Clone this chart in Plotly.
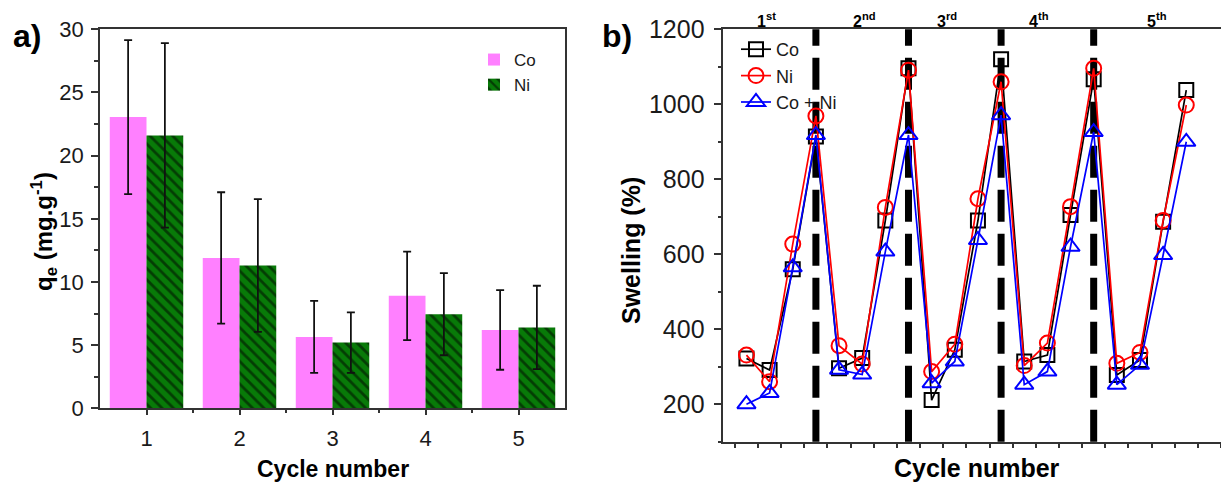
import plotly.graph_objects as go

# ---------------- data ----------------
cycles = [1, 2, 3, 4, 5]
qe_co = [23.05, 11.9, 5.65, 8.9, 6.2]
qe_ni = [21.6, 11.3, 5.2, 7.45, 6.4]
err_co = [6.1, 5.2, 2.85, 3.5, 3.15]
err_ni = [7.3, 5.25, 2.4, 3.25, 3.3]

steps = list(range(1, 21))
sw_co = [322, 291, 560, 914, 296, 323, 690, 1096, 211, 345, 690, 1120, 314, 331, 705, 1067, 278, 318, 687, 1038]
sw_ni = [331, 260, 627, 969, 356, 307, 725, 1091, 287, 360, 748, 1060, 303, 363, 727, 1096, 309, 338, 690, 998]
sw_coni = [200, 230, 565, 918, 292, 279, 607, 918, 256, 314, 638, 971, 252, 287, 620, 926, 252, 305, 598, 900]

cycle_bounds = [4, 8, 12, 16]
cycle_labels = ["1<sup>st</sup>", "2<sup>nd</sup>", "3<sup>rd</sup>", "4<sup>th</sup>", "5<sup>th</sup>"]
cycle_label_pos = [1.85, 6.1, 9.67, 13.65, 18.75]

FONT = "Arial, Liberation Sans, sans-serif"
W, H = 1221, 483


def px_x(p):
    return p / W


def px_y(p):
    return 1 - p / H


fig = go.Figure()

# ---------------- panel a ----------------
fig.add_trace(go.Bar(
    x=cycles, y=qe_co, name="Co", xaxis="x", yaxis="y",
    marker=dict(color="#ff80ff", line=dict(width=0)),
    error_y=dict(type="data", array=err_co, visible=True, color="#111", thickness=1.8, width=4),
    legend="legend",
))
fig.add_trace(go.Bar(
    x=cycles, y=qe_ni, name="Ni", xaxis="x", yaxis="y",
    marker=dict(color="#087a08", line=dict(width=0),
                pattern=dict(shape="\\", fgcolor="#000000", size=8, solidity=0.35)),
    error_y=dict(type="data", array=err_ni, visible=True, color="#111", thickness=1.8, width=4),
    legend="legend",
))

# ---------------- panel b ----------------
series = [
    ("Co", sw_co, "#000000", "square-open", 14),
    ("Ni", sw_ni, "#ff0000", "circle-open", 15),
    ("Co + Ni", sw_coni, "#0000ff", "triangle-up-open", 16),
]
for name, vals, col, sym, sz in series:
    fig.add_trace(go.Scatter(
        x=steps, y=vals, name=name, xaxis="x2", yaxis="y2",
        mode="lines+markers",
        line=dict(color=col, width=1.7),
        marker=dict(symbol=sym, size=sz, color=col, line=dict(width=2, color=col)),
        legend="legend2",
    ))

for b in cycle_bounds:
    fig.add_shape(type="line", xref="x2", yref="y2 domain", x0=b, x1=b, y0=0, y1=1,
                  line=dict(color="black", width=7, dash="32px,12px"), layer="below")

for lab, pos in zip(cycle_labels, cycle_label_pos):
    fig.add_annotation(x=pos, xref="x2", y=px_y(20), yref="paper", text="<b>" + lab + "</b>",
                       showarrow=False, font=dict(family=FONT, size=16, color="black"),
                       xanchor="center", yanchor="middle")

# ---------------- axes ----------------
axis_line = dict(showline=True, linecolor="#333", linewidth=1.5, showgrid=False, zeroline=False,
                 automargin=False)

fig.update_layout(
    width=W, height=H,
    margin=dict(l=0, r=0, t=0, b=0, autoexpand=False),
    paper_bgcolor="white", plot_bgcolor="white",
    font=dict(family=FONT, color="#1a1a1a"),
    barmode="group", bargap=0.21, bargroupgap=0,
    xaxis=dict(domain=[px_x(100), px_x(565)], range=[0.5, 5.5], anchor="y",
               tickvals=cycles, ticks="outside", ticklen=5, tickwidth=1.5, tickcolor="#333",
               minor=dict(tickvals=[1.5, 2.5, 3.5, 4.5], ticks="outside", ticklen=3, tickwidth=1.5, tickcolor="#333"),
               mirror=True, tickfont=dict(size=22), ticklabelstandoff=5, **axis_line),
    yaxis=dict(domain=[px_y(408.3), px_y(29.3)], range=[0, 30], anchor="x",
               tickvals=[0, 5, 10, 15, 20, 25, 30], ticks="outside", ticklen=7, tickwidth=1.5, tickcolor="#333",
               minor=dict(dtick=2.5, tick0=0, ticks="outside", ticklen=4, tickwidth=1.5, tickcolor="#333"),
               mirror=True, tickfont=dict(size=22), ticklabelstandoff=3, **axis_line),
    xaxis2=dict(domain=[px_x(723.3), 1.0], range=[0, 21.5], anchor="y2",
                tick0=0.5, dtick=1, ticks="outside", ticklen=5, tickwidth=1.5, tickcolor="#333",
                showticklabels=False, mirror=True, **axis_line),
    yaxis2=dict(domain=[px_y(441.7), px_y(29.3)], range=[100, 1200], anchor="x2",
                tickvals=[200, 400, 600, 800, 1000, 1200], ticks="outside", ticklen=8, tickwidth=1.5, tickcolor="#333",
                minor=dict(dtick=100, tick0=0, ticks="outside", ticklen=4, tickwidth=1.5, tickcolor="#333"),
                tickfont=dict(size=25), ticklabelstandoff=4, **axis_line),
    legend=dict(x=px_x(474), y=px_y(42), xanchor="left", yanchor="top",
                font=dict(family=FONT, size=17, color="#1a1a1a"), bgcolor="rgba(0,0,0,0)",
                tracegroupgap=0, itemwidth=30),
    legend2=dict(x=px_x(736), y=px_y(31), xanchor="left", yanchor="top",
                 font=dict(family=FONT, size=18, color="#1a1a1a"), bgcolor="rgba(0,0,0,0)",
                 tracegroupgap=0, itemwidth=30),
    showlegend=True,
)

# ---------------- titles / panel letters ----------------
ann = [
    dict(x=px_x(27), y=px_y(36), text="<b>a)</b>", size=32),
    dict(x=px_x(617), y=px_y(36), text="<b>b)</b>", size=32),
    dict(x=px_x(333), y=px_y(469), text="<b>Cycle number</b>", size=23),
    dict(x=px_x(977), y=px_y(468), text="<b>Cycle number</b>", size=25),
]
for a in ann:
    fig.add_annotation(x=a["x"], y=a["y"], xref="paper", yref="paper", text=a["text"],
                       showarrow=False, font=dict(family=FONT, size=a["size"], color="black"),
                       xanchor="center", yanchor="middle")

fig.add_annotation(x=px_x(44), y=px_y(232), xref="paper", yref="paper",
                   text="<b>q<sub>e</sub> (mg.g<sup>-1</sup>)</b>", textangle=-90,
                   showarrow=False, font=dict(family=FONT, size=24, color="black"),
                   xanchor="center", yanchor="middle")
fig.add_annotation(x=px_x(631), y=px_y(251), xref="paper", yref="paper",
                   text="<b>Swelling (%)</b>", textangle=-90,
                   showarrow=False, font=dict(family=FONT, size=25, color="black"),
                   xanchor="center", yanchor="middle")

fig.write_html("out.html", config={"displayModeBar": False},
               post_script="document.body.style.margin='0';document.body.style.padding='0';")
